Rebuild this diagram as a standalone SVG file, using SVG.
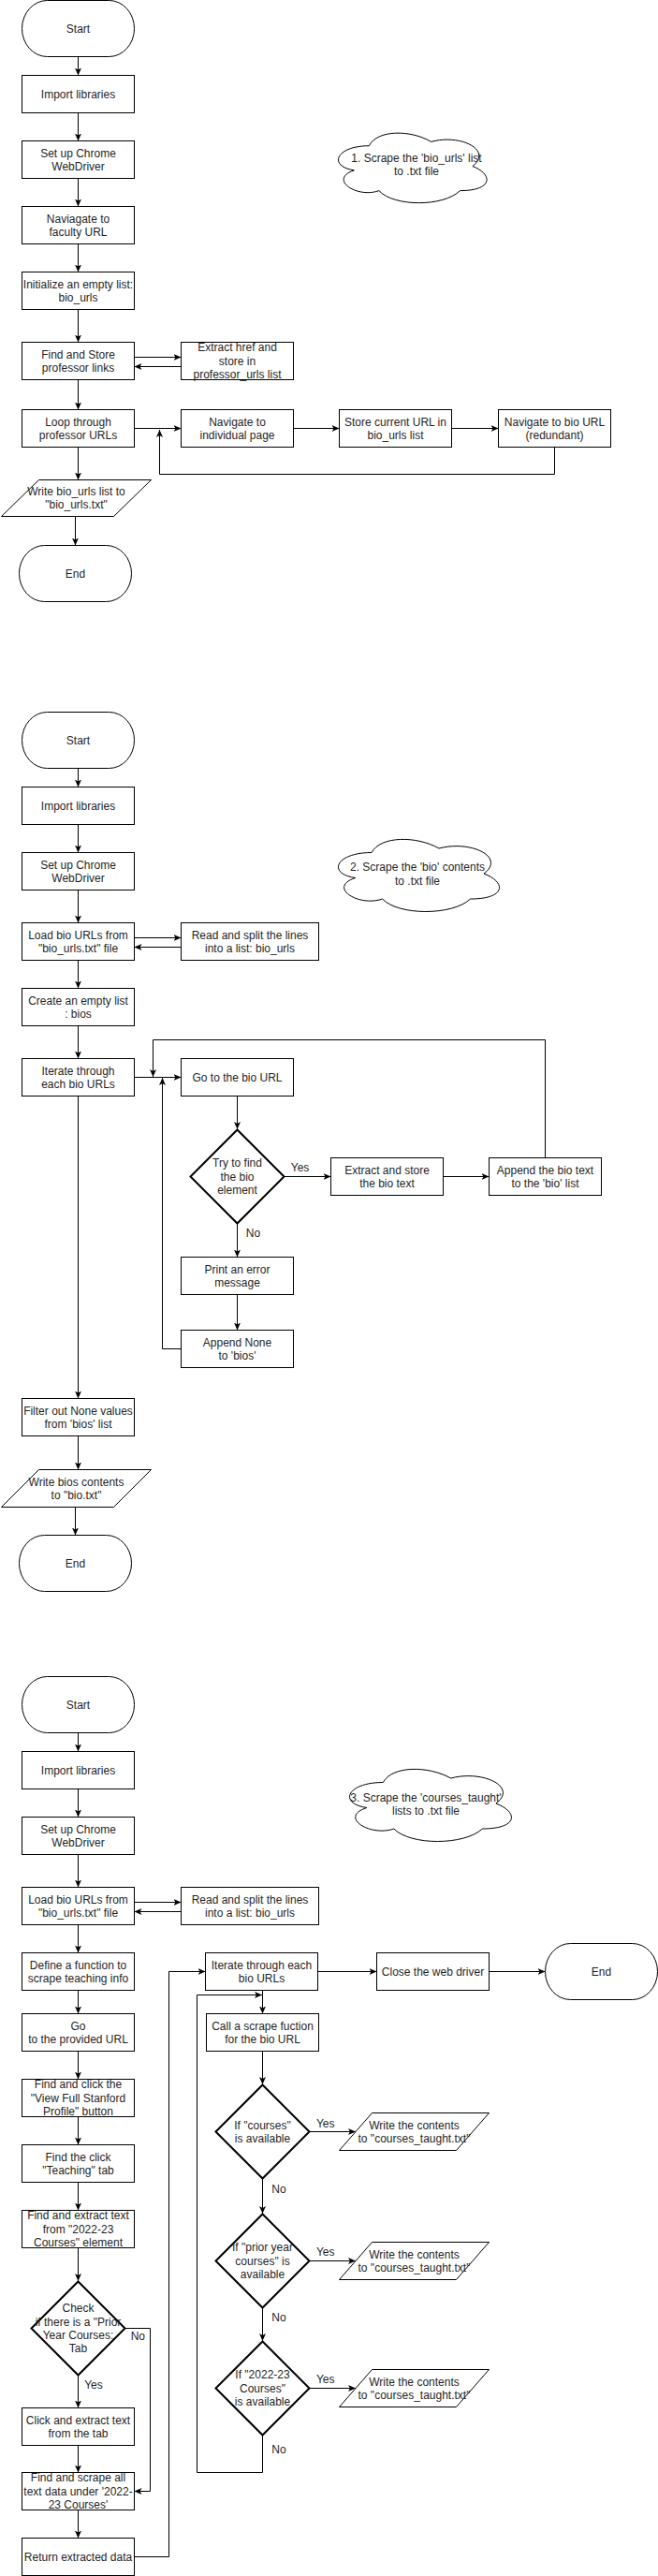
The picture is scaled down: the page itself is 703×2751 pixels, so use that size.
<svg xmlns="http://www.w3.org/2000/svg" width="703" height="2751" viewBox="0 0 703 2751">
<style>
.s{fill:#fff;stroke:#000;stroke-width:1}
.d{fill:#fff;stroke:#000;stroke-width:2}
.e{fill:none;stroke:#000;stroke-width:1}
.ea{fill:none;stroke:#000;stroke-width:1;marker-end:url(#arr)}
text{font-family:"Liberation Sans",Arial,Helvetica,sans-serif;font-size:12px;fill:#1f1f1f;text-anchor:middle}
</style>
<defs>
<marker id="arr" viewBox="0 0 8 8" refX="8" refY="4" markerWidth="8" markerHeight="8" orient="auto" markerUnits="userSpaceOnUse"><path d="M0,0.5 L8,4 L0,7.5 L2,4 Z" fill="#000"/></marker>
</defs>
<rect width="703" height="2751" fill="#fff"/>

<g id="connectors">
<!-- section 1 -->
<path class="ea" d="M83.5,60.5 V80.5"/>
<path class="ea" d="M83.5,120.5 V150.5"/>
<path class="ea" d="M83.5,190.5 V220.5"/>
<path class="ea" d="M83.5,260.5 V290.5"/>
<path class="ea" d="M83.5,330.5 V365.5"/>
<path class="ea" d="M143.5,381.5 H193.5"/>
<path class="ea" d="M193.5,391.5 H143.5"/>
<path class="ea" d="M83.5,405.5 V437.5"/>
<path class="ea" d="M143.5,457.5 H193.5"/>
<path class="ea" d="M313.5,457.5 H362.5"/>
<path class="ea" d="M482.5,457.5 H532.5"/>
<path class="ea" d="M592.5,477.5 V506.5 H170.5 V459"/>
<path class="ea" d="M83.5,477.5 V512.5"/>
<path class="ea" d="M80.5,551.5 V582.5"/>
<!-- section 2 -->
<path class="ea" d="M83.5,820.5 V840.5"/>
<path class="ea" d="M83.5,880.5 V910.5"/>
<path class="ea" d="M83.5,950.5 V985.5"/>
<path class="ea" d="M143.5,1001.5 H193.5"/>
<path class="ea" d="M193.5,1011.5 H143.5"/>
<path class="ea" d="M83.5,1025.5 V1055.5"/>
<path class="ea" d="M83.5,1095.5 V1130.5"/>
<path class="ea" d="M143.5,1150.5 H193.5"/>
<path class="ea" d="M253.5,1170.5 V1206"/>
<path class="ea" d="M304,1256.5 H353.5"/>
<path class="ea" d="M473.5,1256.5 H522.5"/>
<path class="ea" d="M582.5,1236.5 V1110.5 H163.5 V1150"/>
<path class="ea" d="M253.5,1307 V1342.5"/>
<path class="ea" d="M253.5,1382.5 V1420.5"/>
<path class="ea" d="M193.5,1440.5 H173.5 V1151"/>
<path class="ea" d="M83.5,1170.5 V1493.5"/>
<path class="ea" d="M83.5,1533.5 V1569.5"/>
<path class="ea" d="M80.5,1609.5 V1639.5"/>
<!-- section 3 -->
<path class="ea" d="M83.5,1850.5 V1870.5"/>
<path class="ea" d="M83.5,1910.5 V1940.5"/>
<path class="ea" d="M83.5,1980.5 V2015.5"/>
<path class="ea" d="M143.5,2031.5 H193.5"/>
<path class="ea" d="M193.5,2041.5 H143.5"/>
<path class="ea" d="M83.5,2055.5 V2085.5"/>
<path class="ea" d="M83.5,2125.5 V2150.5"/>
<path class="ea" d="M83.5,2190.5 V2220.5"/>
<path class="ea" d="M83.5,2260.5 V2290.5"/>
<path class="ea" d="M83.5,2330.5 V2360.5"/>
<path class="ea" d="M83.5,2400.5 V2436"/>
<path class="ea" d="M134,2486.5 H160.5 V2660.5 H143.5"/>
<path class="ea" d="M83.5,2537 V2571.5"/>
<path class="ea" d="M83.5,2611.5 V2640.5"/>
<path class="ea" d="M83.5,2680.5 V2710.5"/>
<path class="ea" d="M143.5,2730.5 H180.5 V2105.5 H219.5"/>
<path class="ea" d="M339.5,2105.5 H402.5"/>
<path class="ea" d="M522.5,2105.5 H582.5"/>
<path class="ea" d="M280.5,2125.5 V2150.5"/>
<path class="ea" d="M280.5,2190.5 V2226"/>
<path class="ea" d="M331,2276.5 H380"/>
<path class="ea" d="M280.5,2327 V2364"/>
<path class="ea" d="M331,2414.5 H380"/>
<path class="ea" d="M280.5,2465 V2500"/>
<path class="ea" d="M331,2550.5 H380"/>
<path class="ea" d="M280.5,2601 V2640.5 H210.5 V2130.5 H280"/>
<text x="320.6" y="1250.9">Yes</text>
<text x="270.5" y="1320.9">No</text>
<text x="147.3" y="2499.2">No</text>
<text x="100" y="2550.9">Yes</text>
<text x="347.7" y="2271.9">Yes</text>
<text x="298" y="2341.9">No</text>
<text x="347.7" y="2408.5">Yes</text>
<text x="298" y="2478.5">No</text>
<text x="347.7" y="2544.9">Yes</text>
<text x="298" y="2619.9">No</text>
</g>

<!-- ========== SECTION 1 ========== -->
<g id="s1-start"><rect class="s" x="23.5" y="0.5" width="120" height="60" rx="27" ry="30"/><text x="83.5" y="34.7">Start</text></g>
<g id="s1-import"><rect class="s" x="23.5" y="80.5" width="120" height="40"/><text x="83.5" y="104.7">Import libraries</text></g>
<g id="s1-setup"><rect class="s" x="23.5" y="150.5" width="120" height="40"/><text x="83.5" y="167.5">Set up Chrome<tspan x="83.5" y="181.9">WebDriver</tspan></text></g>
<g id="s1-nav"><rect class="s" x="23.5" y="220.5" width="120" height="40"/><text x="83.5" y="237.5">Naviagate to<tspan x="83.5" y="251.9">faculty URL</tspan></text></g>
<g id="s1-init"><rect class="s" x="23.5" y="290.5" width="120" height="40"/><text x="83.5" y="307.5">Initialize an empty list:<tspan x="83.5" y="321.9">bio_urls</tspan></text></g>
<g id="s1-find"><rect class="s" x="23.5" y="365.5" width="120" height="40"/><text x="83.5" y="382.5">Find and Store<tspan x="83.5" y="396.9">professor links</tspan></text></g>
<g id="s1-extract"><rect class="s" x="193.5" y="365.5" width="120" height="40"/><text x="253.5" y="375.3">Extract href and<tspan x="253.5" y="389.7">store in</tspan><tspan x="253.5" y="404.1">professor_urls list</tspan></text></g>
<g id="s1-loop"><rect class="s" x="23.5" y="437.5" width="120" height="40"/><text x="83.5" y="454.5">Loop through<tspan x="83.5" y="468.9">professor URLs</tspan></text></g>
<g id="s1-navind"><rect class="s" x="193.5" y="437.5" width="120" height="40"/><text x="253.5" y="454.5">Navigate to<tspan x="253.5" y="468.9">individual page</tspan></text></g>
<g id="s1-store"><rect class="s" x="362.5" y="437.5" width="120" height="40"/><text x="422.5" y="454.5">Store current URL in<tspan x="422.5" y="468.9">bio_urls list</tspan></text></g>
<g id="s1-navbio"><rect class="s" x="532.5" y="437.5" width="120" height="40"/><text x="592.5" y="454.5">Navigate to bio URL<tspan x="592.5" y="468.9">(redundant)</tspan></text></g>
<g id="s1-write"><polygon class="s" points="41.5,512.5 161.5,512.5 121.5,551.5 1.5,551.5"/><text x="81.5" y="529">Write bio_urls list to<tspan x="81.5" y="543.4">"bio_urls.txt"</tspan></text></g>
<g id="s1-end"><rect class="s" x="20.5" y="582.5" width="120" height="60" rx="27" ry="30"/><text x="80.5" y="616.7">End</text></g>
<g id="s1-cloud"><path class="s" d="M394.25,155.75 C358.85,155.75 350,177.5 378.32,181.85 C350,191.42 381.86,212.3 404.87,203.6 C420.8,221 473.9,221 491.6,203.6 C527,203.6 527,186.2 504.88,177.5 C527,160.1 491.6,142.7 460.63,151.4 C438.5,138.35 403.1,138.35 394.25,155.75 Z"/><text x="445" y="172.5">1. Scrape the 'bio_urls' list<tspan x="445" y="186.9">to .txt file</tspan></text></g>

<!-- ========== SECTION 2 ========== -->
<g id="s2-start"><rect class="s" x="23.5" y="760.5" width="120" height="60" rx="27" ry="30"/><text x="83.5" y="794.7">Start</text></g>
<g id="s2-import"><rect class="s" x="23.5" y="840.5" width="120" height="40"/><text x="83.5" y="864.7">Import libraries</text></g>
<g id="s2-setup"><rect class="s" x="23.5" y="910.5" width="120" height="40"/><text x="83.5" y="927.5">Set up Chrome<tspan x="83.5" y="941.9">WebDriver</tspan></text></g>
<g id="s2-load"><rect class="s" x="23.5" y="985.5" width="120" height="40"/><text x="83.5" y="1002.5">Load bio URLs from<tspan x="83.5" y="1016.9">"bio_urls.txt" file</tspan></text></g>
<g id="s2-read"><rect class="s" x="193.5" y="985.5" width="147" height="40"/><text x="267" y="1002.5">Read and split the lines<tspan x="267" y="1016.9">into a list: bio_urls</tspan></text></g>
<g id="s2-create"><rect class="s" x="23.5" y="1055.5" width="120" height="40"/><text x="83.5" y="1072.5">Create an empty list<tspan x="83.5" y="1086.9">: bios</tspan></text></g>
<g id="s2-iterate"><rect class="s" x="23.5" y="1130.5" width="120" height="40"/><text x="83.5" y="1147.5">Iterate through<tspan x="83.5" y="1161.9">each bio URLs</tspan></text></g>
<g id="s2-go"><rect class="s" x="193.5" y="1130.5" width="120" height="40"/><text x="253.5" y="1154.7">Go to the bio URL</text></g>
<g id="s2-try"><polygon class="d" points="253.5,1206.5 303.5,1256.5 253.5,1306.5 203.5,1256.5"/><text x="253.5" y="1246.3">Try to find<tspan x="253.5" y="1260.7">the bio</tspan><tspan x="253.5" y="1275.1">element</tspan></text></g>
<g id="s2-extract"><rect class="s" x="353.5" y="1236.5" width="120" height="40"/><text x="413.5" y="1253.5">Extract and store<tspan x="413.5" y="1267.9">the bio text</tspan></text></g>
<g id="s2-append"><rect class="s" x="522.5" y="1236.5" width="120" height="40"/><text x="582.5" y="1253.5">Append the bio text<tspan x="582.5" y="1267.9">to the 'bio' list</tspan></text></g>
<g id="s2-print"><rect class="s" x="193.5" y="1342.5" width="120" height="40"/><text x="253.5" y="1359.5">Print an error<tspan x="253.5" y="1373.9">message</tspan></text></g>
<g id="s2-appendnone"><rect class="s" x="193.5" y="1420.5" width="120" height="40"/><text x="253.5" y="1437.5">Append None<tspan x="253.5" y="1451.9">to 'bios'</tspan></text></g>
<g id="s2-filter"><rect class="s" x="23.5" y="1493.5" width="120" height="40"/><text x="83.5" y="1510.5">Filter out None values<tspan x="83.5" y="1524.9">from 'bios' list</tspan></text></g>
<g id="s2-write"><polygon class="s" points="41.5,1569.5 161.5,1569.5 121.5,1609.5 1.5,1609.5"/><text x="81.5" y="1586.5">Write bios contents<tspan x="81.5" y="1600.9">to "bio.txt"</tspan></text></g>
<g id="s2-end"><rect class="s" x="20.5" y="1639.5" width="120" height="60" rx="27" ry="30"/><text x="80.5" y="1673.7">End</text></g>
<g id="s2-cloud"><path class="s" d="M397,910.5 C358.6,910.5 349,933 379.72,937.5 C349,947.4 383.56,969 408.52,960 C425.8,978 483.4,978 502.6,960 C541,960 541,942 517,933 C541,915 502.6,897 469,906 C445,892.5 406.6,892.5 397,910.5 Z"/><text x="446" y="930.2">2. Scrape the 'bio' contents<tspan x="446" y="944.6">to .txt file</tspan></text></g>

<!-- ========== SECTION 3 ========== -->
<g id="s3-start"><rect class="s" x="23.5" y="1790.5" width="120" height="60" rx="27" ry="30"/><text x="83.5" y="1824.7">Start</text></g>
<g id="s3-import"><rect class="s" x="23.5" y="1870.5" width="120" height="40"/><text x="83.5" y="1894.7">Import libraries</text></g>
<g id="s3-setup"><rect class="s" x="23.5" y="1940.5" width="120" height="40"/><text x="83.5" y="1957.5">Set up Chrome<tspan x="83.5" y="1971.9">WebDriver</tspan></text></g>
<g id="s3-load"><rect class="s" x="23.5" y="2015.5" width="120" height="40"/><text x="83.5" y="2032.5">Load bio URLs from<tspan x="83.5" y="2046.9">"bio_urls.txt" file</tspan></text></g>
<g id="s3-read"><rect class="s" x="193.5" y="2015.5" width="147" height="40"/><text x="267" y="2032.5">Read and split the lines<tspan x="267" y="2046.9">into a list: bio_urls</tspan></text></g>
<g id="s3-define"><rect class="s" x="23.5" y="2085.5" width="120" height="40"/><text x="83.5" y="2102.5">Define a function to<tspan x="83.5" y="2116.9">scrape teaching info</tspan></text></g>
<g id="s3-go"><rect class="s" x="23.5" y="2150.5" width="120" height="40"/><text x="83.5" y="2167.5">Go<tspan x="83.5" y="2181.9">to the provided URL</tspan></text></g>
<g id="s3-findclick"><rect class="s" x="23.5" y="2220.5" width="120" height="40"/><text x="83.5" y="2230.3">Find and click the<tspan x="83.5" y="2244.7">"View Full Stanford</tspan><tspan x="83.5" y="2259.1">Profile" button</tspan></text></g>
<g id="s3-findteach"><rect class="s" x="23.5" y="2290.5" width="120" height="40"/><text x="83.5" y="2307.5">Find the click<tspan x="83.5" y="2321.9">"Teaching" tab</tspan></text></g>
<g id="s3-findextract"><rect class="s" x="23.5" y="2360.5" width="120" height="40"/><text x="83.5" y="2370.3">Find and extract text<tspan x="83.5" y="2384.7">from "2022-23</tspan><tspan x="83.5" y="2399.1">Courses" element</tspan></text></g>
<g id="s3-check"><polygon class="d" points="83.5,2436.5 133.5,2486.5 83.5,2536.5 33.5,2486.5"/><text x="83.5" y="2469.1">Check<tspan x="83.5" y="2483.5">if there is a "Prior</tspan><tspan x="83.5" y="2497.9">Year Courses:</tspan><tspan x="83.5" y="2512.3">Tab</tspan></text></g>
<g id="s3-click"><rect class="s" x="23.5" y="2571.5" width="120" height="40"/><text x="83.5" y="2588.5">Click and extract text<tspan x="83.5" y="2602.9">from the tab</tspan></text></g>
<g id="s3-findscrape"><rect class="s" x="23.5" y="2640.5" width="120" height="40"/><text x="83.5" y="2650.3">Find and scrape all<tspan x="83.5" y="2664.7">text data under '2022-</tspan><tspan x="83.5" y="2679.1">23 Courses'</tspan></text></g>
<g id="s3-return"><rect class="s" x="23.5" y="2710.5" width="120" height="40"/><text x="83.5" y="2734.7">Return extracted data</text></g>
<g id="s3-iterate"><rect class="s" x="219.5" y="2085.5" width="120" height="40"/><text x="279.5" y="2102.5">Iterate through each<tspan x="279.5" y="2116.9">bio URLs</tspan></text></g>
<g id="s3-close"><rect class="s" x="402.5" y="2085.5" width="120" height="40"/><text x="462.5" y="2109.7">Close the web driver</text></g>
<g id="s3-end"><rect class="s" x="582.5" y="2075.5" width="120" height="60" rx="27" ry="30"/><text x="642.5" y="2109.7">End</text></g>
<g id="s3-call"><rect class="s" x="220.5" y="2150.5" width="120" height="40"/><text x="280.5" y="2167.5">Call a scrape fuction<tspan x="280.5" y="2181.9">for the bio URL</tspan></text></g>
<g id="s3-d1"><polygon class="d" points="280.5,2226.5 330.5,2276.5 280.5,2326.5 230.5,2276.5"/><text x="280.5" y="2273.5">If "courses"<tspan x="280.5" y="2287.9">is available</tspan></text></g>
<g id="s3-w1"><polygon class="s" points="397.5,2256.5 522.5,2256.5 487.5,2296.5 362.5,2296.5"/><text x="442.5" y="2273.5">Write the contents<tspan x="442.5" y="2287.9">to "courses_taught.txt"</tspan></text></g>
<g id="s3-d2"><polygon class="d" points="280.5,2364.5 330.5,2414.5 280.5,2464.5 230.5,2414.5"/><text x="280.5" y="2404.3">If "prior year<tspan x="280.5" y="2418.7">courses" is</tspan><tspan x="280.5" y="2433.1">available</tspan></text></g>
<g id="s3-w2"><polygon class="s" points="397.5,2394.5 522.5,2394.5 487.5,2434.5 362.5,2434.5"/><text x="442.5" y="2411.5">Write the contents<tspan x="442.5" y="2425.9">to "courses_taught.txt"</tspan></text></g>
<g id="s3-d3"><polygon class="d" points="280.5,2500.5 330.5,2550.5 280.5,2600.5 230.5,2550.5"/><text x="280.5" y="2540.3">If "2022-23<tspan x="280.5" y="2554.7">Courses"</tspan><tspan x="280.5" y="2569.1">is available</tspan></text></g>
<g id="s3-w3"><polygon class="s" points="397.5,2530.5 522.5,2530.5 487.5,2570.5 362.5,2570.5"/><text x="442.5" y="2547.5">Write the contents<tspan x="442.5" y="2561.9">to "courses_taught.txt"</tspan></text></g>
<g id="s3-cloud"><path class="s" d="M409.25,1903.5 C370.65,1903.5 361,1926 391.88,1930.5 C361,1940.4 395.74,1962 420.83,1953 C438.2,1971 496.1,1971 515.4,1953 C554,1953 554,1935 529.88,1926 C554,1908 515.4,1890 481.63,1899 C457.5,1885.5 418.9,1885.5 409.25,1903.5 Z"/><text x="455" y="1923.5">3. Scrape the 'courses_taught'<tspan x="455" y="1937.9">lists to .txt file</tspan></text></g>
</svg>
